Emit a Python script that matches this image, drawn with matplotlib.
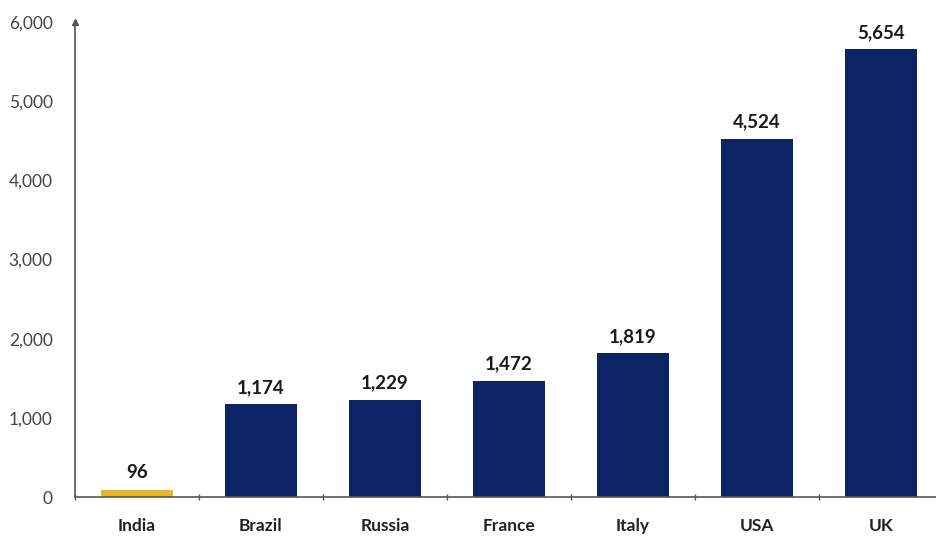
import matplotlib
matplotlib.use("Agg")
import matplotlib.pyplot as plt
import numpy as np

# data
countries = ["India", "Brazil", "Russia", "France", "Italy", "USA", "UK"]
values = [96, 1174, 1229, 1472, 1819, 4524, 5654]
bar_colors = ["#e8b828", "#0c2366", "#0c2366", "#0c2366", "#0c2366", "#0c2366", "#0c2366"]
yticks = [0, 1000, 2000, 3000, 4000, 5000, 6000]

plt.rcParams["font.family"] = ["Lato", "DejaVu Sans"]

fig = plt.figure(figsize=(9.37, 5.38), dpi=100)
ax = fig.add_axes([0.080, 0.076, 0.926, 0.883])

x = np.arange(len(countries))
ax.bar(x, values, width=0.58, color=bar_colors, zorder=2)

for xi, v in zip(x, values):
    ax.annotate(f"{v:,}", (xi, v), xytext=(0, 6), textcoords="offset points",
                ha="center", va="bottom", fontsize=13.5, fontweight="bold", color="#1a1a1a")

ax.set_xlim(-0.5, len(countries) - 0.5)
ax.set_ylim(0, 6000)

ax.set_yticks(yticks)
ax.set_yticklabels([f"{t:,}" for t in yticks], fontsize=12.5, color="#444444")
ax.tick_params(axis="y", length=0, pad=16)

# category boundary ticks on x axis, labels centred under bars
ax.set_xticks(np.arange(len(countries) + 1) - 0.5)
ax.set_xticklabels([])
ax.set_xticks(x, minor=True)
ax.set_xticklabels(countries, minor=True, fontsize=12.5, fontweight="bold", color="#222222")
ax.tick_params(axis="x", which="major", length=5, width=1, color="#555555", direction="inout")
ax.tick_params(axis="x", which="minor", length=0, pad=15)

for s in ["top", "right"]:
    ax.spines[s].set_visible(False)
for s in ["left", "bottom"]:
    ax.spines[s].set_color("#555555")
    ax.spines[s].set_linewidth(1.2)

# little arrow on top of the y axis
ax.plot(0, 1, marker="^", markersize=4, color="#555555", transform=ax.transAxes, clip_on=False)

fig.savefig("out.png", dpi=100)
